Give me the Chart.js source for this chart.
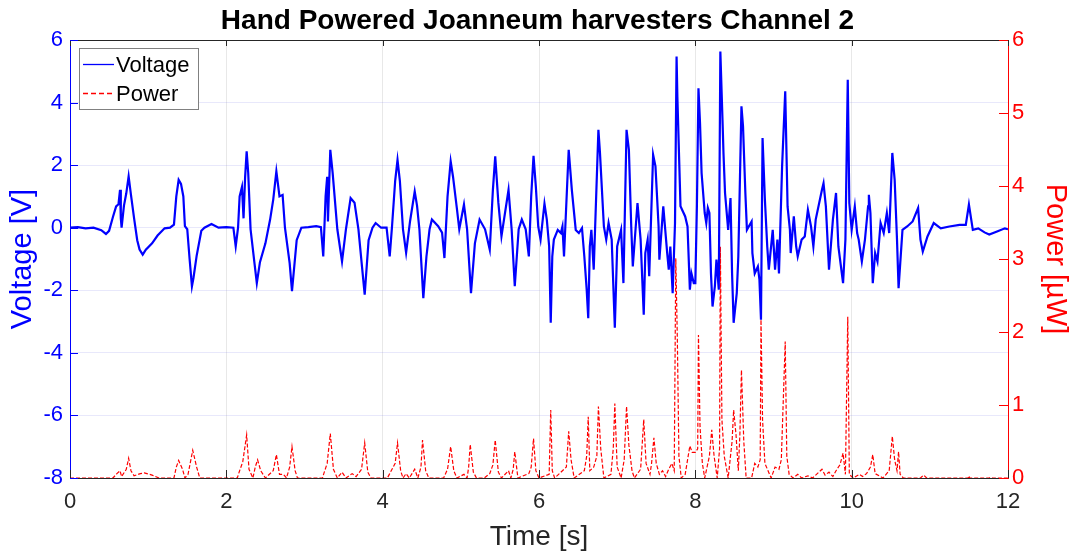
<!DOCTYPE html>
<html>
<head>
<meta charset="utf-8">
<script src="https://cdn.jsdelivr.net/npm/chart.js@4.4.1/dist/chart.umd.min.js"></script>
<style>
  html, body { margin: 0; padding: 0; background: #fff; }
  #wrap { width: 1075px; height: 558px; }
</style>
</head>
<body>
<div id="wrap"><canvas id="chart" width="1075" height="558"></canvas></div>
<script>
const title = 'Hand Powered Joanneum harvesters Channel 2';
const xLabel = 'Time [s]';
const yLabel = 'Voltage [V]';
const y1Label = 'Power [µW]';
const seriesColors = ['#0000ff', '#ff0000'];

// voltage trace (s, V)
const timeV = [0.00, 0.10, 0.20, 0.30, 0.40, 0.46, 0.50, 0.55, 0.59, 0.62, 0.64, 0.65, 0.66, 0.69, 0.72, 0.75, 0.78, 0.82, 0.86, 0.89,
  0.93, 0.97, 1.05, 1.12, 1.21, 1.28, 1.33, 1.36, 1.39, 1.42, 1.45, 1.47, 1.50, 1.53, 1.56, 1.58, 1.62, 1.68, 1.72, 1.81,
  1.90, 2.00, 2.09, 2.12, 2.15, 2.17, 2.20, 2.22, 2.24, 2.26, 2.28, 2.31, 2.36, 2.39, 2.43, 2.50, 2.56, 2.60, 2.64, 2.68,
  2.72, 2.75, 2.81, 2.84, 2.90, 2.96, 3.05, 3.15, 3.21, 3.24, 3.27, 3.29, 3.30, 3.33, 3.36, 3.42, 3.48, 3.53, 3.59, 3.64,
  3.69, 3.73, 3.77, 3.82, 3.87, 3.91, 3.98, 4.05, 4.09, 4.12, 4.16, 4.19, 4.22, 4.26, 4.30, 4.35, 4.41, 4.44, 4.47, 4.52,
  4.56, 4.60, 4.63, 4.71, 4.76, 4.79, 4.83, 4.87, 4.90, 4.95, 4.98, 5.04, 5.08, 5.13, 5.18, 5.24, 5.31, 5.37, 5.41, 5.44,
  5.48, 5.52, 5.61, 5.65, 5.69, 5.74, 5.78, 5.83, 5.87, 5.90, 5.93, 5.96, 5.99, 6.02, 6.07, 6.10, 6.13, 6.15, 6.17, 6.19,
  6.24, 6.28, 6.30, 6.32, 6.38, 6.40, 6.42, 6.47, 6.51, 6.55, 6.58, 6.61, 6.63, 6.65, 6.67, 6.70, 6.76, 6.78, 6.83, 6.86,
  6.89, 6.93, 6.97, 7.00, 7.05, 7.08, 7.12, 7.15, 7.18, 7.20, 7.26, 7.30, 7.34, 7.36, 7.39, 7.41, 7.46, 7.49, 7.53, 7.54,
  7.59, 7.64, 7.66, 7.68, 7.71, 7.74, 7.76, 7.77, 7.81, 7.87, 7.90, 7.93, 7.95, 7.98, 8.00, 8.02, 8.04, 8.06, 8.08, 8.12,
  8.14, 8.16, 8.18, 8.20, 8.22, 8.25, 8.27, 8.30, 8.32, 8.35, 8.36, 8.38, 8.42, 8.45, 8.47, 8.49, 8.53, 8.55, 8.59, 8.61,
  8.64, 8.66, 8.72, 8.73, 8.76, 8.80, 8.82, 8.84, 8.86, 8.89, 8.92, 8.94, 8.99, 9.02, 9.05, 9.07, 9.11, 9.15, 9.18, 9.21,
  9.22, 9.26, 9.29, 9.31, 9.36, 9.40, 9.44, 9.48, 9.51, 9.54, 9.62, 9.64, 9.67, 9.71, 9.76, 9.80, 9.83, 9.89, 9.92, 9.95,
  9.97, 10.00, 10.04, 10.07, 10.09, 10.13, 10.17, 10.21, 10.22, 10.24, 10.27, 10.30, 10.33, 10.37, 10.41, 10.45, 10.48, 10.52, 10.55, 10.58,
  10.60, 10.65, 10.71, 10.78, 10.85, 10.88, 10.91, 10.97, 11.05, 11.14, 11.25, 11.38, 11.46, 11.50, 11.55, 11.62, 11.70, 11.76, 11.86, 11.96,
  12.00];
const voltage = [0.00, 0.02, -0.02, 0.00, -0.08, -0.20, -0.10, 0.35, 0.68, 0.75, 1.21, 0.30, 0.00, 0.70, 1.10, 1.64, 1.05, 0.30, -0.40, -0.70,
  -0.86, -0.70, -0.50, -0.25, -0.02, 0.00, 0.10, 1.00, 1.53, 1.40, 1.00, 0.05, -0.05, -1.00, -1.87, -1.60, -0.90, -0.10, 0.00, 0.12,
  0.00, 0.02, 0.00, -0.60, 0.00, 1.00, 1.30, 0.30, 1.60, 2.44, 1.75, -0.05, -1.13, -1.77, -1.10, -0.50, 0.26, 0.90, 1.80, 1.00,
  1.05, 0.00, -1.13, -2.03, -0.40, 0.00, 0.02, 0.05, 0.02, -0.92, 1.00, 1.63, 0.20, 2.49, 1.75, -0.05, -1.08, -0.05, 0.95, 0.80,
  -0.05, -1.10, -2.14, -0.40, 0.00, 0.15, 0.00, 0.00, -0.92, 0.05, 1.50, 2.17, 1.50, -0.05, -0.80, 0.20, 1.16, 0.70, -0.05, -2.25,
  -0.92, -0.05, 0.26, 0.05, -0.16, -0.97, 1.00, 2.12, 1.63, 0.60, -0.05, 0.74, -0.05, -2.09, -0.50, 0.26, -0.05, -0.70, 1.20, 2.28,
  0.80, -0.27, 1.21, -0.05, -1.87, -0.05, 0.26, -0.05, -0.92, 1.00, 2.30, 1.30, 0.04, -0.38, 0.77, 0.26, -0.60, -3.04, -0.92, -0.38,
  -0.07, -0.17, 0.04, -0.92, 2.49, 1.85, 1.21, -0.07, -0.17, -0.01, -0.92, -1.98, -2.89, -0.60, -0.07, -1.34, 3.13, 2.39, 0.04, -0.38,
  0.15, -0.38, -3.20, -0.60, -0.07, -1.77, 3.13, 2.49, 0.04, -1.24, 0.79, -0.38, -2.78, -0.81, -0.38, -1.55, 2.33, 1.96, 0.04, -1.02,
  0.68, -0.81, -1.34, -0.60, -2.09, 0.15, 5.47, 4.20, 0.69, 0.36, 0.04, -1.98, -1.46, -1.77, -1.77, 0.69, 4.46, 3.34, 1.75, 0.47,
  0.15, 0.63, 0.47, -1.46, -2.52, -1.87, -1.02, -1.98, 5.63, 3.24, 2.39, 1.11, -0.07, 0.95, -1.46, -3.04, -2.09, -0.92, 3.88, 3.24,
  1.11, -0.07, 0.20, -0.81, -1.46, -1.24, -1.66, -2.94, 2.87, 0.89, -0.60, -1.34, -0.07, -1.34, -0.38, -1.46, 1.96, 4.36, 0.68, -0.07,
  -0.81, 0.36, -0.60, -0.92, -0.38, -0.28, 0.57, 0.04, -0.60, 0.26, 1.21, 1.42, 0.68, -1.34, 0.26, 1.11, -0.60, -1.77, -0.38, 4.73,
  0.79, -0.07, 0.68, -0.17, -0.38, -1.08, -0.38, 0.68, 1.05, 0.47, -1.77, -0.81, -1.08, 0.15, -0.17, 0.47, -0.17, 2.39, 1.53, -0.38,
  -1.93, -0.07, 0.04, 0.20, 0.63, -0.38, -0.76, -0.28, 0.15, -0.02, 0.04, 0.09, 0.09, 0.74, -0.07, -0.02, -0.15, -0.22, -0.12, -0.02,
  -0.05];

// power trace (s, µW)
const timeP = [0.00, 0.55, 0.60, 0.64, 0.66, 0.72, 0.75, 0.78, 0.82, 0.90, 0.95, 1.05, 1.14, 1.33, 1.36, 1.39, 1.44, 1.47, 1.51, 1.57,
  1.62, 1.66, 2.14, 2.17, 2.21, 2.26, 2.29, 2.34, 2.37, 2.40, 2.44, 2.50, 2.60, 2.64, 2.68, 2.73, 2.77, 2.81, 2.84, 2.88,
  2.91, 3.23, 3.25, 3.29, 3.33, 3.37, 3.42, 3.48, 3.53, 3.61, 3.66, 3.73, 3.77, 3.81, 3.85, 4.06, 4.09, 4.16, 4.19, 4.23,
  4.26, 4.30, 4.34, 4.41, 4.45, 4.49, 4.51, 4.55, 4.59, 4.78, 4.83, 4.87, 4.91, 4.95, 5.04, 5.08, 5.10, 5.12, 5.16, 5.20,
  5.30, 5.37, 5.41, 5.44, 5.48, 5.52, 5.61, 5.64, 5.67, 5.69, 5.73, 5.87, 5.90, 5.93, 5.96, 6.00, 6.13, 6.15, 6.17, 6.20,
  6.35, 6.38, 6.41, 6.45, 6.58, 6.61, 6.63, 6.65, 6.70, 6.74, 6.76, 6.79, 6.83, 6.92, 6.95, 6.97, 7.00, 7.05, 7.09, 7.12,
  7.15, 7.19, 7.22, 7.30, 7.34, 7.37, 7.42, 7.44, 7.47, 7.50, 7.54, 7.58, 7.62, 7.66, 7.70, 7.73, 7.75, 7.77, 7.79, 7.82,
  7.87, 7.93, 7.96, 8.00, 8.03, 8.04, 8.06, 8.09, 8.12, 8.18, 8.21, 8.24, 8.28, 8.31, 8.32, 8.34, 8.37, 8.42, 8.47, 8.49,
  8.52, 8.55, 8.57, 8.59, 8.62, 8.65, 8.72, 8.76, 8.80, 8.83, 8.84, 8.86, 8.89, 8.93, 8.97, 9.02, 9.07, 9.10, 9.15, 9.17,
  9.20, 9.25, 9.31, 9.36, 9.44, 9.50, 9.58, 9.62, 9.66, 9.71, 9.76, 9.80, 9.85, 9.89, 9.92, 9.95, 9.97, 10.02, 10.10, 10.14,
  10.19, 10.24, 10.27, 10.30, 10.40, 10.48, 10.52, 10.55, 10.58, 10.60, 10.62, 10.66, 10.88, 10.92, 10.96, 11.49, 11.50, 11.51, 11.76, 11.78,
  11.80, 12.00];
const power = [0.00, 0.00, 0.06, 0.10, 0.02, 0.12, 0.27, 0.10, 0.03, 0.06, 0.07, 0.04, 0.00, 0.00, 0.15, 0.24, 0.12, 0.00, 0.05, 0.38,
  0.15, 0.00, 0.00, 0.10, 0.22, 0.59, 0.12, 0.00, 0.15, 0.25, 0.10, 0.00, 0.10, 0.32, 0.05, 0.05, 0.00, 0.15, 0.43, 0.10,
  0.00, 0.00, 0.07, 0.20, 0.61, 0.12, 0.00, 0.08, 0.00, 0.06, 0.02, 0.12, 0.48, 0.08, 0.00, 0.00, 0.06, 0.20, 0.48, 0.10,
  0.00, 0.06, 0.00, 0.12, 0.00, 0.15, 0.52, 0.10, 0.00, 0.00, 0.12, 0.43, 0.10, 0.00, 0.05, 0.00, 0.15, 0.46, 0.08, 0.00,
  0.00, 0.06, 0.18, 0.52, 0.08, 0.00, 0.10, 0.00, 0.12, 0.36, 0.00, 0.06, 0.15, 0.54, 0.10, 0.00, 0.05, 0.93, 0.10, 0.00,
  0.15, 0.64, 0.25, 0.00, 0.10, 0.30, 0.84, 0.10, 0.15, 0.30, 0.98, 0.40, 0.00, 0.05, 0.40, 1.02, 0.15, 0.00, 0.25, 0.98,
  0.45, 0.10, 0.00, 0.12, 0.80, 0.20, 0.05, 0.20, 0.55, 0.20, 0.05, 0.10, 0.02, 0.12, 0.20, 0.10, 3.01, 1.89, 0.30, 0.00,
  0.05, 0.44, 0.35, 0.35, 0.40, 1.96, 0.70, 0.20, 0.00, 0.30, 0.66, 0.30, 0.00, 0.40, 3.17, 0.80, 0.30, 0.00, 0.50, 0.93,
  0.60, 0.10, 0.60, 1.48, 0.50, 0.00, 0.00, 0.20, 0.15, 0.25, 2.17, 0.80, 0.20, 0.10, 0.00, 0.15, 0.12, 0.25, 1.87, 0.30,
  0.05, 0.00, 0.05, 0.00, 0.03, 0.00, 0.08, 0.12, 0.04, 0.08, 0.02, 0.10, 0.18, 0.34, 0.05, 2.21, 0.05, 0.00, 0.05, 0.02,
  0.06, 0.15, 0.32, 0.06, 0.00, 0.10, 0.57, 0.25, 0.10, 0.36, 0.05, 0.00, 0.00, 0.04, 0.00, 0.00, 0.03, 0.00, 0.00, 0.01,
  0.00, 0.00];

const font = '"Liberation Sans", Arial, Helvetica, sans-serif';

// MATLAB-like frame: inward ticks, top edge and the legend box
const framePlugin = {
  id: 'frame',
  afterDraw(chart) {
    const { ctx, chartArea: a, scales } = chart;
    ctx.save();
    ctx.lineWidth = 1;
    ctx.strokeStyle = '#262626';
    ctx.beginPath(); ctx.moveTo(a.left, a.top + 0.5); ctx.lineTo(a.right, a.top + 0.5); ctx.stroke();
    scales.x.ticks.forEach(t => {
      const x = Math.round(scales.x.getPixelForValue(t.value)) + 0.5;
      ctx.beginPath(); ctx.moveTo(x, a.bottom); ctx.lineTo(x, a.bottom - 8); ctx.moveTo(x, a.top); ctx.lineTo(x, a.top + 6); ctx.stroke();
    });
    ctx.strokeStyle = seriesColors[0];
    scales.y.ticks.forEach(t => {
      const y = Math.round(scales.y.getPixelForValue(t.value)) + 0.5;
      ctx.beginPath(); ctx.moveTo(a.left, y); ctx.lineTo(a.left + 8, y); ctx.stroke();
    });
    ctx.strokeStyle = seriesColors[1];
    scales.y1.ticks.forEach(t => {
      const y = Math.round(scales.y1.getPixelForValue(t.value)) + 0.5;
      ctx.beginPath(); ctx.moveTo(a.right, y); ctx.lineTo(a.right - 9, y); ctx.stroke();
    });

    const bx = a.left + 9, by = a.top + 8, bw = 119, bh = 61;
    ctx.fillStyle = '#fff';
    ctx.fillRect(bx, by, bw, bh);
    ctx.strokeStyle = '#808080';
    ctx.strokeRect(bx + 0.5, by + 0.5, bw, bh);
    ctx.font = '22px ' + font;
    ctx.textBaseline = 'middle';
    chart.data.datasets.forEach((ds, i) => {
      const ly = Math.round(by + 16 + i * 29) + 0.5;
      ctx.setLineDash(i ? [5, 3] : []);
      ctx.lineWidth = 1.3;
      ctx.strokeStyle = seriesColors[i];
      ctx.beginPath(); ctx.moveTo(bx + 4, ly); ctx.lineTo(bx + 35, ly); ctx.stroke();
      ctx.setLineDash([]);
      ctx.fillStyle = '#000';
      ctx.fillText(ds.label, bx + 37, ly + 1);
    });
    ctx.restore();
  }
};

new Chart(document.getElementById('chart'), {
  type: 'line',
  data: {
    datasets: [
      { label: 'Voltage', data: timeV.map((t, i) => ({ x: t, y: voltage[i] })), yAxisID: 'y', borderColor: seriesColors[0], borderWidth: 2.2, pointRadius: 0, tension: 0 },
      { label: 'Power', data: timeP.map((t, i) => ({ x: t, y: power[i] })), yAxisID: 'y1', borderColor: seriesColors[1], borderWidth: 1.2, borderDash: [4, 2], pointRadius: 0, tension: 0 },
    ],
  },
  options: {
    responsive: false, animation: false, devicePixelRatio: 1,
    layout: { padding: 0 },
    plugins: {
      legend: { display: false }, tooltip: { enabled: false },
      title: { display: true, text: title, color: '#000', font: { family: font, size: 28, weight: 'bold' }, padding: { top: 4, bottom: 2.4 } },
    },
    scales: {
      x: {
        type: 'linear', min: 0, max: 12,
        ticks: { stepSize: 2, color: '#262626', font: { family: font, size: 22 }, padding: 11, maxRotation: 0 },
        grid: { color: 'rgba(0,0,0,0.09)', drawTicks: false },
        border: { color: '#262626' },
        title: { display: true, text: xLabel, color: '#262626', font: { family: font, size: 28 }, padding: { top: 0, bottom: 4 } },
        afterFit: s => { s.height = 80; },
      },
      y: {
        position: 'left', min: -8, max: 6,
        ticks: { stepSize: 2, color: seriesColors[0], font: { family: font, size: 22 }, padding: 7 },
        grid: { color: 'rgba(110,110,230,0.16)', drawTicks: false },
        border: { color: seriesColors[0] },
        title: { display: true, text: yLabel, color: seriesColors[0], font: { family: font, size: 29 }, padding: { top: 6, bottom: 0 } },
        afterFit: s => { s.width = 70; },
      },
      y1: {
        position: 'right', min: 0, max: 6,
        ticks: { stepSize: 1, color: seriesColors[1], font: { family: font, size: 22 }, padding: 4 },
        grid: { drawOnChartArea: false, drawTicks: false },
        border: { color: seriesColors[1] },
        title: { display: true, text: y1Label, color: seriesColors[1], font: { family: font, size: 29 }, padding: { top: 3, bottom: 0 } },
        afterFit: s => { s.width = 67; },
      },
    },
  },
  plugins: [framePlugin],
});
</script>
</body>
</html>
